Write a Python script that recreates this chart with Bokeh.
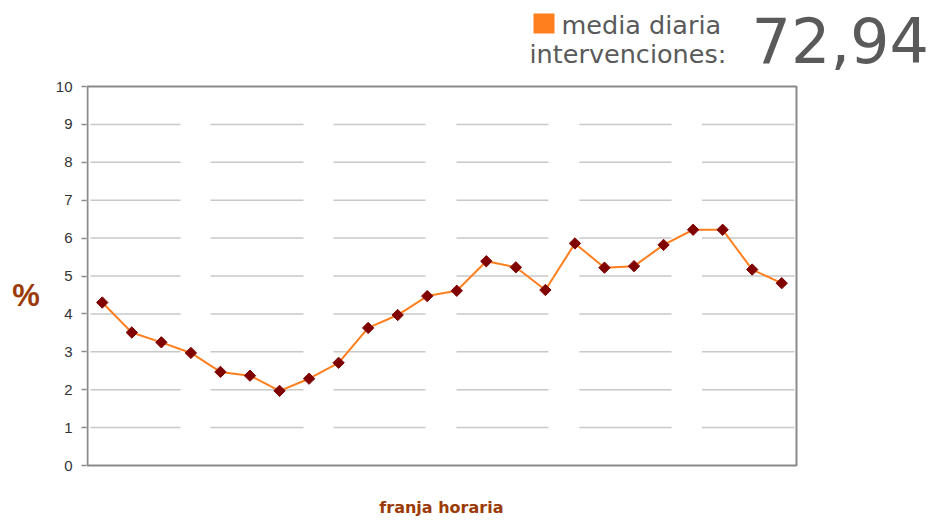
import numpy as np
from bokeh.plotting import figure
from bokeh.models import Range1d, FixedTicker, Label
from bokeh.embed import file_html
from bokeh.resources import INLINE

# ---- data ----
hours = list(range(24))
pct = [4.30, 3.51, 3.25, 2.97, 2.47, 2.37, 1.97, 2.29, 2.71, 3.63, 3.97, 4.47,
       4.61, 5.39, 5.23, 4.63, 5.86, 5.22, 5.26, 5.82, 6.22, 6.22, 5.17, 4.81]
y_ticks = [0, 1, 2, 3, 4, 5, 6, 7, 8, 9, 10]
grid_levels = [1, 2, 3, 4, 5, 6, 7, 8, 9]
legend_line1 = "media diaria"
legend_line2 = "intervenciones:"
legend_value = "72,94"
x_title = "franja horaria"
y_title = "%"

# ---- style ----
ORANGE = "#ff7f1e"
MARKER = "#800000"
BROWN = "#9c3a06"
TEXT_GRAY = "#5a5a5a"
FRAME_GRAY = "#8a8a8a"
GRID_PIECES = [(-0.40, 2.65), (3.66, 6.81), (7.83, 10.94),
               (11.99, 15.10), (16.15, 19.27), (20.30, 23.43)]
X_TITLE_PAD = "\u00a0" * 25   # pushes the centred axis title to the left

W, H = 935, 522
# plot box geometry (pixels on the page): x=-0.5 at 87, x=23.5 at 796; y=0 at 465, y=10 at 86
BOX_L, BOX_R, BOX_B, BOX_T = 87, 796, 465, 86
UX = (BOX_R - BOX_L) / 24.0
UY = (BOX_B - BOX_T) / 10.0


def dx(px):
    return -0.5 + (px - BOX_L) / UX


def dy(py):
    return (BOX_B - py) / UY


FRAME_LEFT = 86
FRAME_BOTTOM = 467

p = figure(width=W, height=H,
           x_range=Range1d(dx(FRAME_LEFT), dx(W)), y_range=Range1d(dy(FRAME_BOTTOM), dy(0)),
           output_backend="svg", toolbar_location=None,
           min_border_left=FRAME_LEFT, min_border_right=0, min_border_top=0,
           min_border_bottom=H - FRAME_BOTTOM)

p.xgrid.visible = False
p.ygrid.visible = False
p.outline_line_color = None
p.background_fill_color = "white"
p.border_fill_color = "white"

xa = p.xaxis[0]
xa.ticker = FixedTicker(ticks=[])
xa.axis_line_color = None
xa.major_tick_line_color = None
xa.minor_tick_line_color = None
xa.major_tick_out = 0
xa.major_label_standoff = 0
xa.axis_label = x_title + X_TITLE_PAD
xa.axis_label_standoff = 30
xa.axis_label_text_font = "DejaVu Sans"
xa.axis_label_text_font_style = "bold"
xa.axis_label_text_font_size = "16px"
xa.axis_label_text_color = BROWN

ya = p.yaxis[0]
ya.ticker = FixedTicker(ticks=y_ticks)
ya.axis_line_color = None
ya.major_tick_line_color = FRAME_GRAY
ya.major_tick_line_width = 1.5
ya.major_tick_in = 0
ya.major_tick_out = 5
ya.minor_tick_line_color = None
ya.major_label_standoff = 9
ya.major_label_text_font = "Liberation Sans"
ya.major_label_text_font_size = "15px"
ya.major_label_text_color = "#333333"
ya.axis_label = "\n\n\n" + y_title
ya.axis_label_orientation = "horizontal"
ya.axis_label_standoff = 13
ya.axis_label_text_font = "Liberation Sans"
ya.axis_label_text_font_style = "bold"
ya.axis_label_text_font_size = "31px"
ya.axis_label_text_line_height = 1.17
ya.axis_label_text_color = BROWN

# broken gridlines
x0s, x1s, ys = [], [], []
for g in grid_levels:
    for a, b in GRID_PIECES:
        x0s.append(a); x1s.append(b); ys.append(g)
p.segment(x0=x0s, y0=ys, x1=x1s, y1=ys, line_color="#c8c8c8", line_width=1.5)

# plot box
p.quad(left=[-0.5], right=[23.5], bottom=[0], top=[10], fill_color=None,
       line_color=FRAME_GRAY, line_width=2)

p.line(hours, pct, line_color=ORANGE, line_width=2)
p.scatter(hours, pct, marker="square", angle=np.pi / 4, size=8,
          fill_color=MARKER, line_color=MARKER)

# legend block (top right)
p.quad(left=[dx(533)], right=[dx(554)], top=[dy(13)], bottom=[dy(33)],
       fill_color=ORANGE, line_color=None)
p.add_layout(Label(x=dx(561), y=dy(24), text=legend_line1, text_align="left",
                   text_baseline="alphabetic", text_font="DejaVu Sans",
                   text_font_size="25.5px", text_color=TEXT_GRAY))
p.add_layout(Label(x=dx(529), y=dy(53), text=legend_line2, text_align="left",
                   text_baseline="alphabetic", text_font="DejaVu Sans",
                   text_font_size="25.5px", text_color=TEXT_GRAY))
p.add_layout(Label(x=dx(751), y=dy(39), text=legend_value, text_align="left",
                   text_baseline="alphabetic", text_font="DejaVu Sans",
                   text_font_size="62px", text_color=TEXT_GRAY))

open("out.html", "w").write(file_html(p, INLINE))
